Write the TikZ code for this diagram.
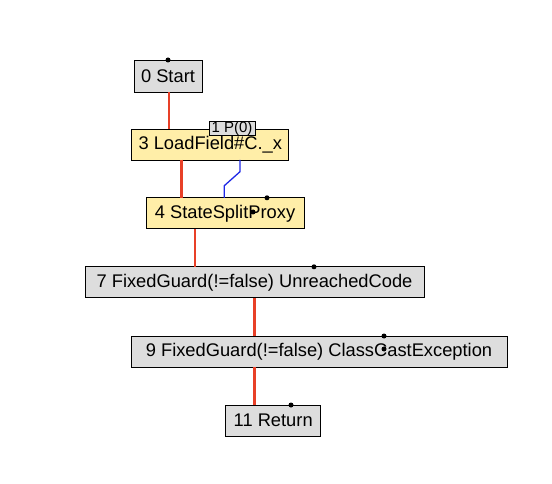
\documentclass[tikz,border=0pt]{standalone}
\usepackage{fontspec}
\setmainfont{Liberation Sans}
\usetikzlibrary{positioning}

\definecolor{nodegray}{RGB}{221,221,221}
\definecolor{nodeyellow}{RGB}{255,238,168}
\definecolor{ctrlred}{RGB}{232,64,40}
\definecolor{datablue}{RGB}{30,40,230}

\begin{document}
\begin{tikzpicture}[
	x=1pt, y=-1pt,
	irnode/.style = {
		draw, rectangle, align=center, fill=nodegray,
		font=\fontsize{18.3}{20}\selectfont, line width=0.9pt,
		inner sep=0pt, outer sep=0pt, minimum height=31pt},
	fixnode/.style = {irnode, fill=nodeyellow},
	smallnode/.style = {
		draw, rectangle, fill=nodegray, line width=0.8pt,
		font=\fontsize{15}{16}\selectfont, inner sep=0pt,
		minimum width=46pt, minimum height=13pt},
	ctrl/.style = {line width=2.8pt, ctrlred},
	data/.style = {line width=1.3pt, datablue},
	port/.style = {fill=black, circle, inner sep=0pt, minimum size=5pt}
]
\useasboundingbox (0,0) rectangle (552,484);

\node (start)  [irnode, minimum width=68pt, minimum height=32pt] at (168,76)  {0 Start};
\node (load)   [fixnode, minimum width=157pt] at (210.3,144.5) {3 LoadField\#C.\_x};
\node (p0)     [smallnode] at (232,128.5) {1 P(0)};
\node (split)  [fixnode, minimum width=158pt] at (225,213.3) {4 StateSplitProxy};
\node (guard7) [irnode, minimum width=339pt] at (254.5,282.3) {7 FixedGuard(!=false) UnreachedCode};
\node (guard9) [irnode, minimum width=376pt] at (319,351.5) {9 FixedGuard(!=false) ClassCastException};
\node (ret)    [irnode, minimum width=95pt] at (273.2,420.5) {11 Return};

% control flow
\draw[ctrl] ([xshift=1pt]start.south) -- ([xshift=1pt]start.south |- load.north);
\draw[ctrl] ([xshift=49.3pt]load.south west) -- ([xshift=49.3pt]load.south west |- split.north);
\draw[ctrl] ([xshift=49pt]split.south west) -- ([xshift=49pt]split.south west |- guard7.north);
\draw[ctrl] (guard7.south) -- (guard7.south |- guard9.north);
\draw[ctrl] (guard7.south |- guard9.south) -- (guard7.south |- ret.north);

% data flow
\draw[data] ([xshift=29.7pt]load.south) -- ++(0,11.7) -- ++(-15.7,14)
	-- ([xshift=-0.7pt]split.north);

% ports
\node (pstart)  [port] at (start.north) {};
\node (psplit)  [port] at ([xshift=42pt]split.north) {};
\node (psplit2) [port] at (253,212) {};
\node (pguard7) [port] at ([xshift=59.5pt]guard7.north) {};
\node (pguard9) [port] at ([xshift=65pt]guard9.north) {};
\node (pguard9b)[port] at (384,349) {};
\node (pret)    [port] at ([xshift=17.8pt]ret.north) {};
\end{tikzpicture}
\end{document}
